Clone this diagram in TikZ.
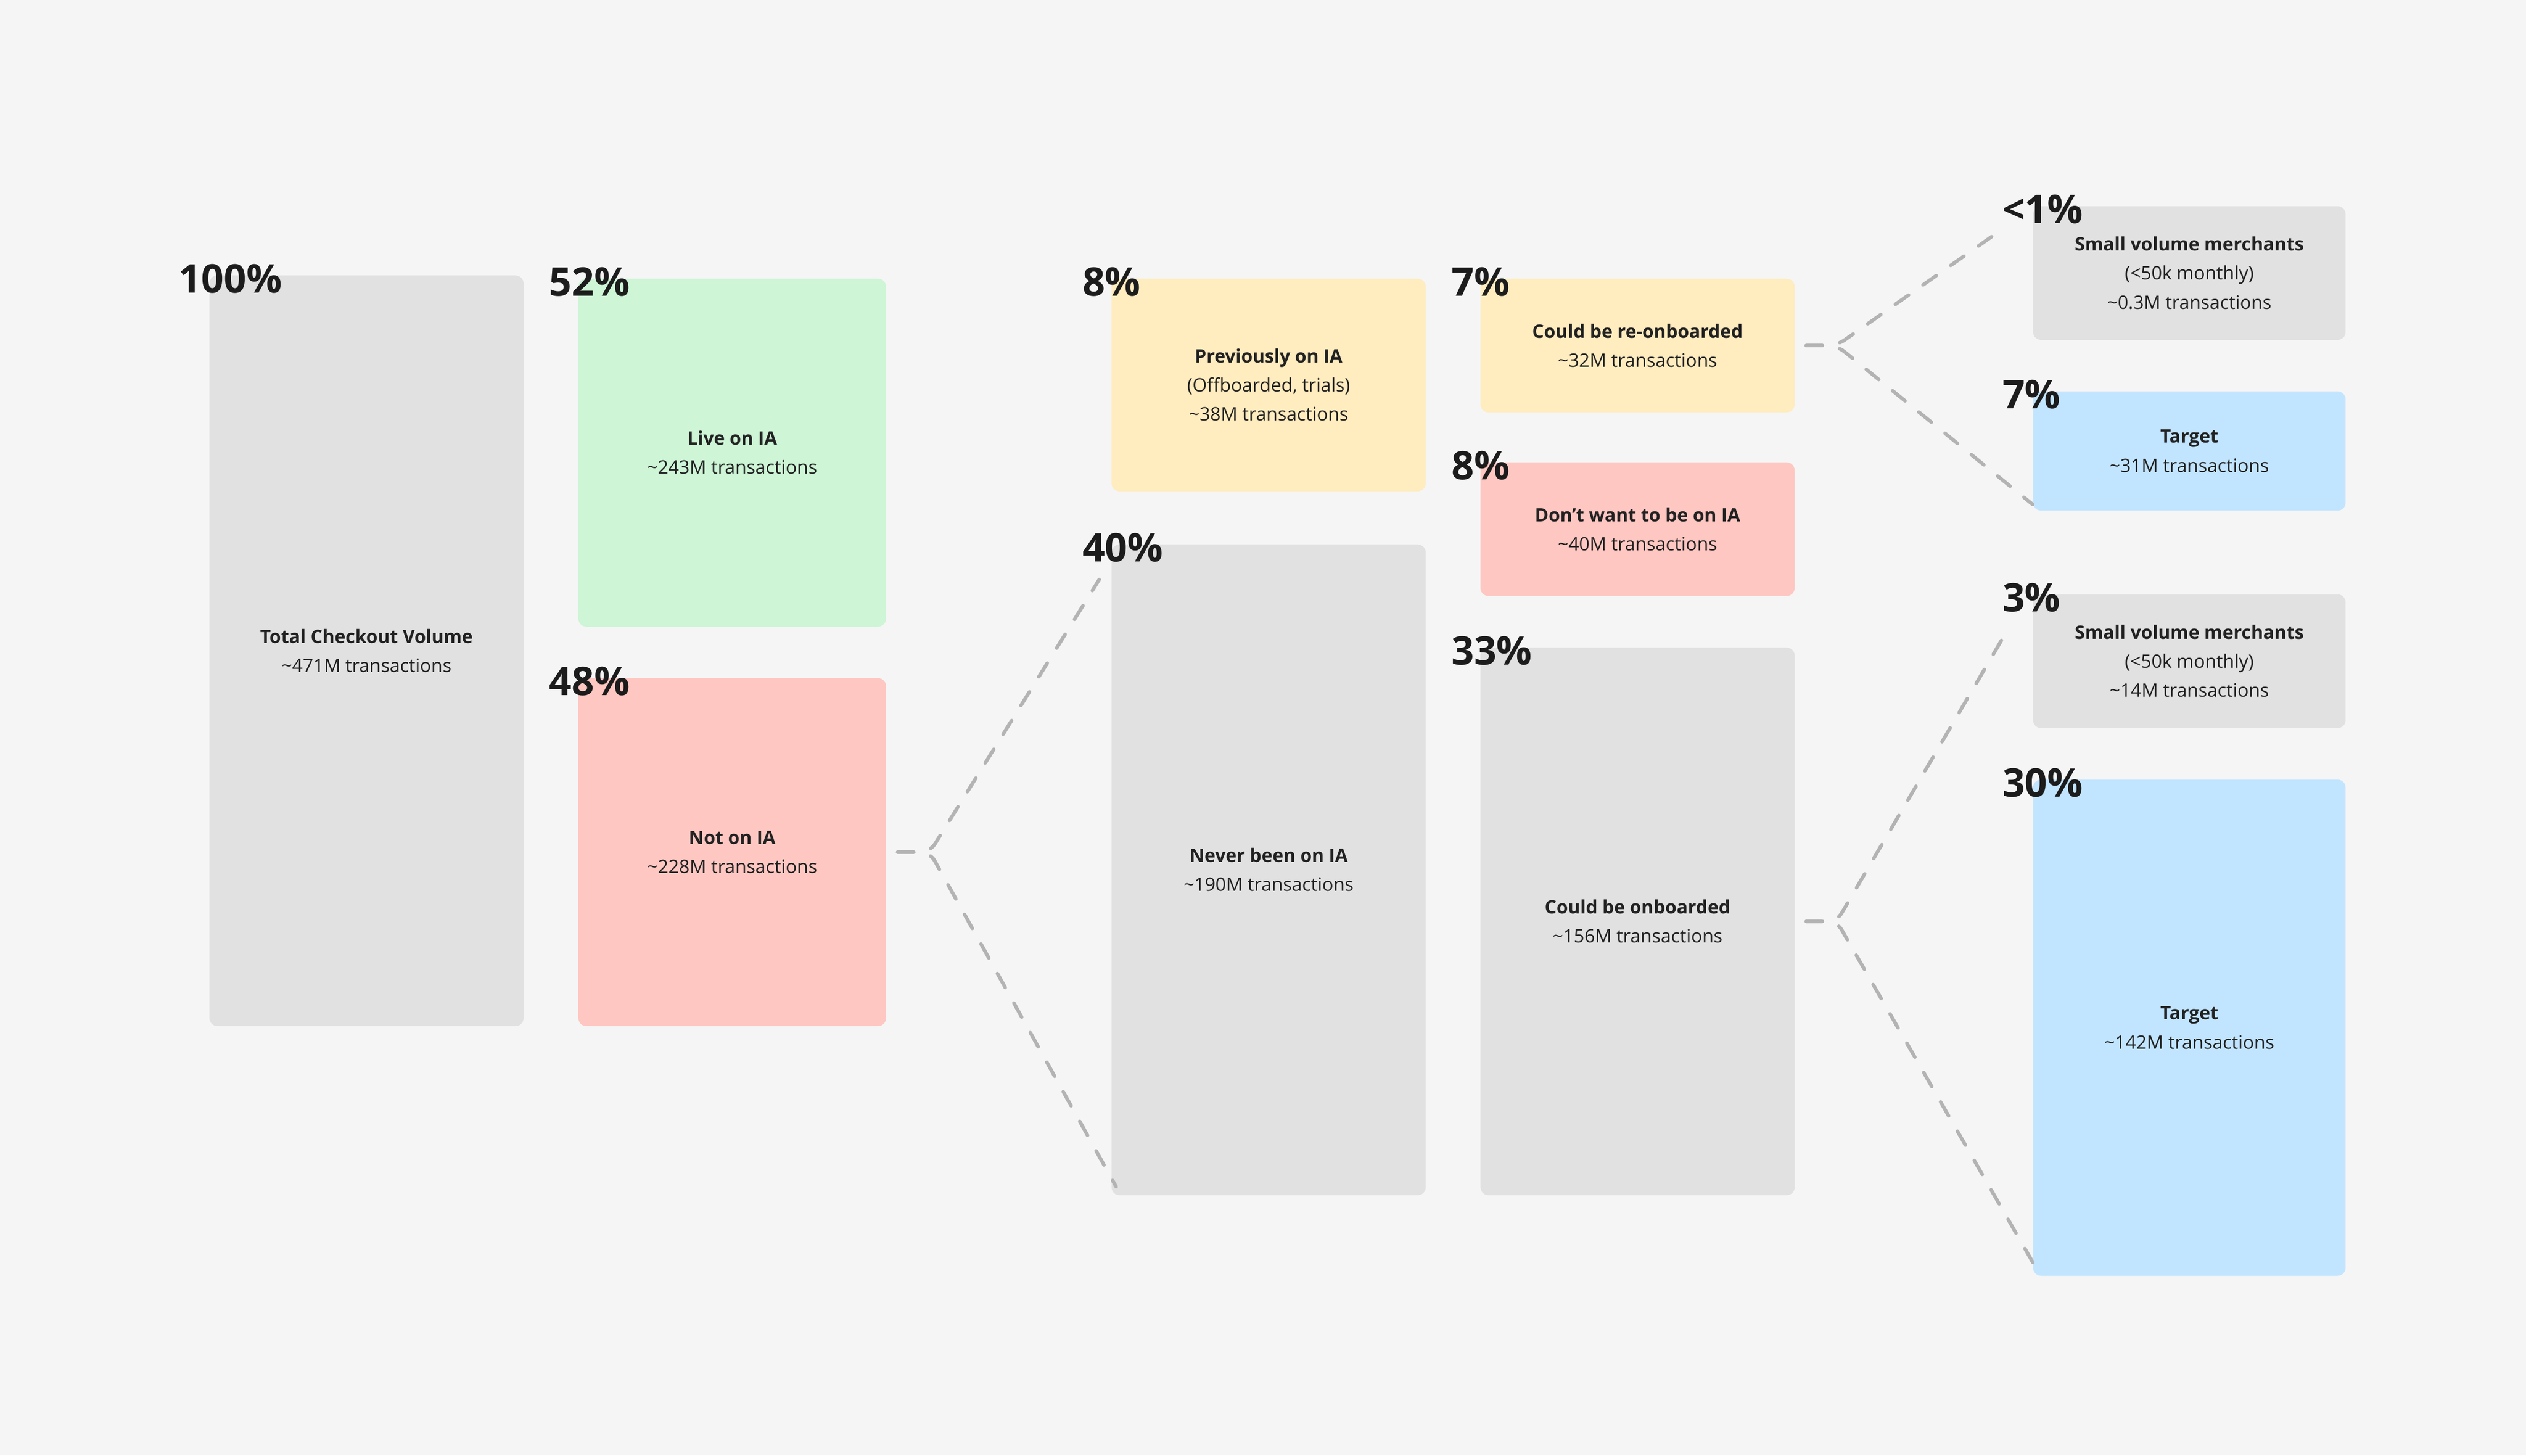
\documentclass[tikz,border=0pt]{standalone}
\usepackage{fontspec}
\setmainfont{Open Sans}
\usetikzlibrary{calc}
\definecolor{bgc}{HTML}{F5F5F5}
\definecolor{grayc}{HTML}{E1E1E1}
\definecolor{greenc}{HTML}{CDF5D6}
\definecolor{yellowc}{HTML}{FFECBF}
\definecolor{redc}{HTML}{FFC7C2}
\definecolor{bluec}{HTML}{C2E5FF}
\definecolor{dashc}{HTML}{B3B3B3}
\definecolor{txtc}{HTML}{222222}
\definecolor{pctc}{HTML}{1C1C1C}
\tikzset{
  box/.style={rectangle, rounded corners=5pt, inner sep=0pt, align=center,
    text=txtc, font=\fontsize{11.5}{18}\selectfont},
  pct/.style={anchor=base west, inner sep=0pt, text=pctc,
    font=\fontsize{24.5}{24}\selectfont\bfseries},
  conn/.style={draw=dashc, line width=2.2pt, line cap=round,
    dash pattern=on 10pt off 11pt, rounded corners=6pt}
}
\begin{document}
\begin{tikzpicture}[x=1pt,y=-1pt]
\fill[bgc] (0,0) rectangle (1568,903.6);
\useasboundingbox (0,0) rectangle (1568,903.6);

% boxes
\node[box, fill=grayc, minimum width=195pt, minimum height=466pt] (total) at (227.5,404)
  {\textbf{Total Checkout Volume}\\\textasciitilde471M transactions};
\node[box, fill=greenc, minimum width=191pt, minimum height=216pt] (live) at (454.5,281)
  {\textbf{Live on IA}\\\textasciitilde243M transactions};
\node[box, fill=redc, minimum width=191pt, minimum height=216pt] (notia) at (454.5,529)
  {\textbf{Not on IA}\\\textasciitilde228M transactions};
\node[box, fill=yellowc, minimum width=195pt, minimum height=132pt] (prev) at (787.5,239)
  {\textbf{Previously on IA}\\(Offboarded, trials)\\\textasciitilde38M transactions};
\node[box, fill=grayc, minimum width=195pt, minimum height=404pt] (never) at (787.5,540)
  {\textbf{Never been on IA}\\\textasciitilde190M transactions};
\node[box, fill=yellowc, minimum width=195pt, minimum height=83pt] (reon) at (1016.5,214.5)
  {\textbf{Could be re-onboarded}\\\textasciitilde32M transactions};
\node[box, fill=redc, minimum width=195pt, minimum height=83pt] (dont) at (1016.5,328.5)
  {\textbf{Don’t want to be on IA}\\\textasciitilde40M transactions};
\node[box, fill=grayc, minimum width=195pt, minimum height=340pt] (onb) at (1016.5,572)
  {\textbf{Could be onboarded}\\\textasciitilde156M transactions};
\node[box, fill=grayc, minimum width=194pt, minimum height=83pt] (smallA) at (1359,169.5)
  {\textbf{Small volume merchants}\\(<50k monthly)\\\textasciitilde0.3M transactions};
\node[box, fill=bluec, minimum width=194pt, minimum height=74pt] (targetA) at (1359,280)
  {\textbf{Target}\\\textasciitilde31M transactions};
\node[box, fill=grayc, minimum width=194pt, minimum height=83pt] (smallB) at (1359,410.5)
  {\textbf{Small volume merchants}\\(<50k monthly)\\\textasciitilde14M transactions};
\node[box, fill=bluec, minimum width=194pt, minimum height=308pt] (targetB) at (1359,638)
  {\textbf{Target}\\\textasciitilde142M transactions};

% percentage labels
\node[pct] (p100) at ($(total.north west)+(-19,11)$) {100\%};
\node[pct] (p52) at ($(live.north west)+(-18,11)$) {52\%};
\node[pct] (p48) at ($(notia.north west)+(-18,11)$) {48\%};
\node[pct] (p8a) at ($(prev.north west)+(-18,11)$) {8\%};
\node[pct] (p40) at ($(never.north west)+(-18,11)$) {40\%};
\node[pct] (p7a) at ($(reon.north west)+(-18,11)$) {7\%};
\node[pct] (p8b) at ($(dont.north west)+(-18,11)$) {8\%};
\node[pct] (p33) at ($(onb.north west)+(-18,11)$) {33\%};
\node[pct] (p1) at ($(smallA.north west)+(-19,11)$) {<1\%};
\node[pct] (p7b) at ($(targetA.north west)+(-19,11)$) {7\%};
\node[pct] (p3) at ($(smallB.north west)+(-19,11)$) {3\%};
\node[pct] (p30) at ($(targetB.north west)+(-19,11)$) {30\%};

% connectors
\draw[conn] ($(notia.east)+(7,0)$) -- ($(notia.east)+(27,0)$) -- ($(never.north west)+(-7.5,22)$);
\draw[conn] ($(notia.east)+(7,0)$) -- ($(notia.east)+(27,0)$) -- ($(never.south west)+(3,-5.5)$);
\draw[conn] ($(reon.east)+(7,0)$) -- ($(reon.east)+(26,0)$) -- ($(smallA.north west)+(-22.5,17)$);
\draw[conn] ($(reon.east)+(7,0)$) -- ($(reon.east)+(26,0)$) -- ($(targetA.south west)+(0,-4)$);
\draw[conn] ($(onb.east)+(7,0)$) -- ($(onb.east)+(26,0)$) -- ($(smallB.north west)+(-15.5,22)$);
\draw[conn] ($(onb.east)+(7,0)$) -- ($(onb.east)+(26,0)$) -- ($(targetB.south west)+(1.5,-6)$);
\end{tikzpicture}
\end{document}
